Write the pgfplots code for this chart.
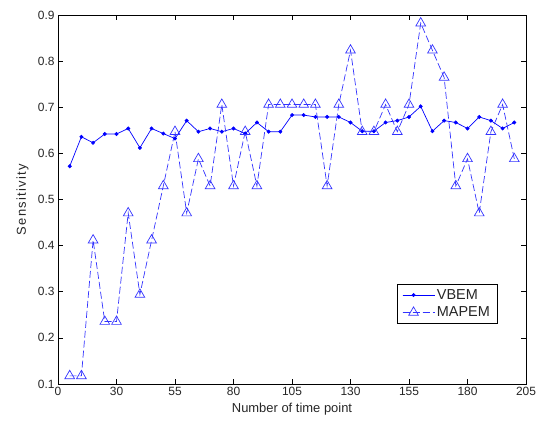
\documentclass[border=0pt]{standalone}
\usepackage{fontspec}
\setmainfont{Liberation Sans}
\usepackage{pgfplots}
\usepackage{pgfplotstable}
\pgfplotsset{compat=1.18}
\pgfplotstableread{
x y
5 0.572
10 0.636
15 0.623
20 0.642
25 0.642
30 0.654
35 0.612
40 0.654
45 0.643
50 0.632
55 0.671
60 0.647
65 0.654
70 0.647
75 0.654
80 0.643
85 0.667
90 0.647
95 0.647
100 0.683
105 0.683
110 0.679
115 0.679
120 0.679
125 0.667
130 0.648
135 0.648
140 0.667
145 0.671
150 0.679
155 0.702
160 0.648
165 0.671
170 0.667
175 0.654
180 0.679
185 0.671
190 0.654
195 0.667
}\vbem
\pgfplotstableread{
x y
5 0.1176
10 0.1176
15 0.4118
20 0.2353
25 0.2353
30 0.4706
35 0.2941
40 0.4118
45 0.5294
50 0.6471
55 0.4706
60 0.5882
65 0.5294
70 0.7059
75 0.5294
80 0.6471
85 0.5294
90 0.7059
95 0.7059
100 0.7059
105 0.7059
110 0.7059
115 0.5294
120 0.7059
125 0.8235
130 0.6471
135 0.6471
140 0.7059
145 0.6471
150 0.7059
155 0.8824
160 0.8235
165 0.7647
170 0.5294
175 0.5882
180 0.4706
185 0.6471
190 0.7059
195 0.5882
}\mapem
\begin{document}
\begin{tikzpicture}[x=1bp,y=1bp]
\useasboundingbox (0,0) rectangle (539,423);
\begin{axis}[
  at={(58bp,39bp)}, anchor=south west,
  scale only axis, width=468bp, height=369bp,
  xmin=0, xmax=200, ymin=0.1, ymax=0.9,
  xtick={0,25,50,75,100,125,150,175,200},
  xticklabels={0,30,55,80,105,130,155,180,205},
  ytick={0.1,0.2,0.3,0.4,0.5,0.6,0.7,0.8,0.9},
  yticklabels={0.1,0.2,0.3,0.4,0.5,0.6,0.7,0.8,0.9},
  tick align=inside, major tick length=5bp,
  tick style={black, line width=0.6bp},
  axis line style={black, line width=0.7bp},
  ticklabel style={font=\fontsize{12}{14}\selectfont, text=black!85},
  xlabel={Number of time point},
  ylabel={Sensitivity},
  label style={font=\fontsize{13}{15}\selectfont, text=black!85},
  xlabel style={at={(rel axis cs:0.5,0)}, anchor=north, yshift=-16bp},
  ylabel style={at={(rel axis cs:0,0.5)}, anchor=south, yshift=26bp, font=\fontsize{13}{15}\selectfont\addfontfeatures{LetterSpace=10}},
  legend style={at={(rel axis cs:0.724,0.271)}, anchor=north west,
    draw=black, line width=0.7bp, font=\fontsize{14.5}{16}\selectfont,
    inner xsep=5bp, inner ysep=3bp, row sep=2bp, text=black!85},
  legend cell align=left,
  legend image code/.code={
    \path (0bp,0bp) -- (32bp,0bp);
    \draw[#1] (0bp,0bp) -- (22bp,0bp);
    \draw[#1, solid, mark repeat=1, mark phase=1] plot coordinates {(11bp,0bp)};
  },
]
\addplot[blue, line width=0.7bp, mark=*, mark size=1.6bp, mark options={solid, fill=blue}]
  table[x=x,y=y]{\vbem};
\addlegendentry{VBEM}
\addplot[blue!80, line width=0.7bp, dash pattern=on 7bp off 3bp, mark=triangle, mark size=5.6bp, mark options={solid, line width=0.7bp}]
  table[x=x,y=y]{\mapem};
\addlegendentry{MAPEM}
\end{axis}
\end{tikzpicture}
\end{document}
